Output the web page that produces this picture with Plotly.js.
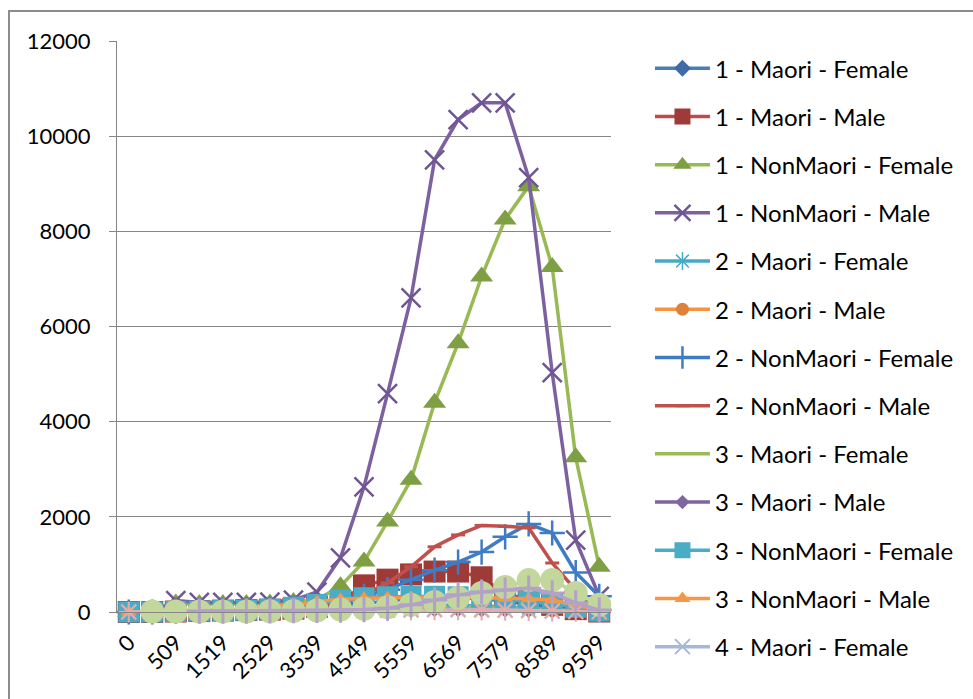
<!DOCTYPE html>
<html>
<head>
<meta charset="utf-8">
<script src="https://cdn.plot.ly/plotly-3.0.1.min.js"></script>
<style>
  html, body { margin: 0; padding: 0; background: #fff; overflow: hidden; }
  #chart { position: absolute; left: 0; top: 0; width: 973px; height: 699px; }
  #frame { position: absolute; left: 8px; top: 10px; width: 1200px; height: 1200px;
           border-top: 2px solid #8c8c8c; border-left: 2px solid #8c8c8c; pointer-events: none; }
</style>
</head>
<body>
<div id="chart"></div>
<div id="frame"></div>
<script>
// Age groups (category axis); every other one is labelled
const ageGroups = ["0","14","509","1014","1519","2024","2529","3034","3539","4044","4549",
                   "5054","5559","6064","6569","7074","7579","8084","8589","9094","9599"];
const yTicks = [0, 2000, 4000, 6000, 8000, 10000, 12000];

// Counts per age group for each level / ethnicity / sex
const maori1Female    = [0,0,5,10,15,20,30,50,80,130,190,240,280,300,300,280,230,160,90,35,5];
const maori1Male      = [0,0,10,20,30,40,50,70,110,220,560,680,790,850,850,730,380,260,150,60,10];
const nonMaori1Female = [0,0,180,170,170,170,180,210,260,540,1060,1900,2780,4400,5650,7050,8250,8950,7250,3250,950];
const nonMaori1Male   = [0,0,240,200,200,200,210,250,420,1140,2630,4590,6600,9500,10350,10700,10700,9130,5030,1510,330];
const maori2Female    = [0,0,5,10,10,15,20,30,40,60,90,110,130,140,140,130,110,80,50,20,5];
const maori2Male      = [0,0,5,10,10,15,20,25,35,50,70,90,100,110,110,100,80,60,35,15,3];
const nonMaori2Female = [0,0,20,30,40,50,60,80,120,200,330,470,680,880,1050,1260,1580,1850,1660,830,330];
const nonMaori2Male   = [0,0,10,20,30,40,50,70,110,200,360,610,950,1370,1620,1820,1800,1770,1030,460,60];
const maori3Female    = [0,0,5,5,10,10,15,20,30,45,60,75,90,100,100,95,80,60,35,15,3];
const maori3Male      = [0,0,5,5,10,10,15,15,20,25,30,35,40,40,40,35,30,25,15,8,2];
const nonMaori3Female = [0,0,10,20,30,40,60,100,160,250,300,320,330,330,320,300,260,230,180,100,20];
const nonMaori3Male   = [0,0,10,20,30,60,100,150,220,270,290,300,310,320,320,300,290,280,250,150,40];
const maori4Female    = [0,0,3,5,5,10,10,15,20,25,35,45,55,60,60,55,45,35,20,10,2];
const maori4Male      = [0,0,3,5,5,5,10,10,15,20,25,30,35,40,40,35,30,25,15,8,2];
const nonMaori4Female = [null,10,10,10,10,10,15,20,30,50,70,100,150,210,300,400,525,670,670,400,150];
const nonMaori4Male   = [null,null,null,20,20,20,25,30,35,40,50,80,150,250,360,420,460,500,400,190,40];

const seriesNames = [
  "1 - Maori - Female", "1 - Maori - Male", "1 - NonMaori - Female", "1 - NonMaori - Male",
  "2 - Maori - Female", "2 - Maori - Male", "2 - NonMaori - Female", "2 - NonMaori - Male",
  "3 - Maori - Female", "3 - Maori - Male", "3 - NonMaori - Female", "3 - NonMaori - Male",
  "4 - Maori - Female", "4 - Maori - Male", "4 - NonMaori - Female", "4 - NonMaori - Male"
];
const seriesValues = [
  maori1Female, maori1Male, nonMaori1Female, nonMaori1Male,
  maori2Female, maori2Male, nonMaori2Female, nonMaori2Male,
  maori3Female, maori3Male, nonMaori3Female, nonMaori3Male,
  maori4Female, maori4Male, nonMaori4Female, nonMaori4Male
];

// Line colour, marker symbol, marker colour, marker size, marker outline width
const styles = [
  { line: "#4A7EBB", symbol: "diamond",         mc: "#3F6CA5", size: 13, lw: 0 },
  { line: "#BE4B48", symbol: "square",          mc: "#9E3B38", size: 22, lw: 0 },
  { line: "#98B954", symbol: "triangle-up",     mc: "#7F9F45", size: 20, lw: 0 },
  { line: "#7D60A0", symbol: "x-thin",          mc: "#6F5594", size: 19, lw: 2.5 },
  { line: "#46AAC5", symbol: "asterisk",        mc: "#46AAC5", size: 15, lw: 1.5 },
  { line: "#F69240", symbol: "circle",          mc: "#DC823A", size: 13, lw: 0 },
  { line: "#3F7CC4", symbol: "cross-thin",      mc: "#3F7CC4", size: 18, lw: 2.5 },
  { line: "#C0504D", symbol: "line-ew",         mc: "#C0504D", size: 10, lw: 3 },
  { line: "#9BBB59", symbol: null },
  { line: "#7F64A2", symbol: "diamond",         mc: "#7F64A2", size: 11, lw: 0 },
  { line: "#4BACC6", symbol: "square",          mc: "#4BACC6", size: 21, lw: 0 },
  { line: "#F79646", symbol: "triangle-up",     mc: "#F79646", size: 14, lw: 0 },
  { line: "#A5B8D8", symbol: "x-thin",          mc: "#A5B8D8", size: 15, lw: 2 },
  { line: "#E6B0AF", symbol: "asterisk",        mc: "#E6A9A7", size: 17, lw: 2 },
  { line: "#C3D69B", symbol: "circle",          mc: "#C3D69B", size: 24, lw: 0 },
  { line: "#B3A2C7", symbol: "cross-thin",      mc: "#B3A2C7", size: 18, lw: 3 }
];

const legendCount = 13;

const traces = seriesNames.map((name, i) => {
  const s = styles[i];
  const t = {
    type: "scatter",
    x: ageGroups,
    y: seriesValues[i],
    name: name,
    legendgroup: name,
    showlegend: i < legendCount,
    cliponaxis: false,
    line: { color: s.line, width: 3.5 },
    mode: s.symbol ? "lines+markers" : "lines",
    hoverinfo: "name+x+y"
  };
  if (s.symbol) {
    t.marker = {
      symbol: s.symbol,
      size: s.size,
      color: s.mc,
      line: { color: s.mc, width: s.lw }
    };
  }
  return t;
});

const fontFamily = "Lato, 'Open Sans', sans-serif";

const layout = {
  width: 973,
  height: 699,
  margin: { l: 117, r: 362, t: 41, b: 87 },
  paper_bgcolor: "#fff",
  plot_bgcolor: "#fff",
  font: { family: fontFamily, size: 22, color: "#000" },
  showlegend: true,
  legend: {
    xref: "container", yref: "container",
    x: 0.668, y: 0.934, xanchor: "left", yanchor: "top",
    font: { family: fontFamily, size: 24, color: "#000" },
    itemwidth: 55,
    tracegroupgap: 14,
    traceorder: "grouped",
    maxheight: 699,
    bgcolor: "rgba(0,0,0,0)",
    borderwidth: 0
  },
  xaxis: {
    type: "category",
    range: [-0.5, ageGroups.length - 0.5],
    tickmode: "array",
    tickvals: ageGroups.filter((_, i) => i % 2 === 0),
    ticktext: ageGroups.filter((_, i) => i % 2 === 0),
    tickangle: -45,
    ticks: "",
    ticklabelstandoff: 8,
    showgrid: false,
    showline: true,
    linecolor: "#868686",
    linewidth: 1,
    zeroline: false,
    tickfont: { family: fontFamily, size: 22, color: "#000" }
  },
  yaxis: {
    range: [0, 12000],
    tickmode: "array",
    tickvals: yTicks,
    ticktext: yTicks.map(String),
    ticks: "outside",
    ticklen: 7,
    tickcolor: "#868686",
    tickwidth: 1,
    ticklabelstandoff: 14,
    showgrid: true,
    gridcolor: "#868686",
    gridwidth: 1,
    showline: true,
    linecolor: "#868686",
    linewidth: 1,
    zeroline: false,
    tickfont: { family: fontFamily, size: 22, color: "#000" }
  }
};

Plotly.newPlot("chart", traces, layout, { displayModeBar: false, staticPlot: true });
</script>
</body>
</html>
